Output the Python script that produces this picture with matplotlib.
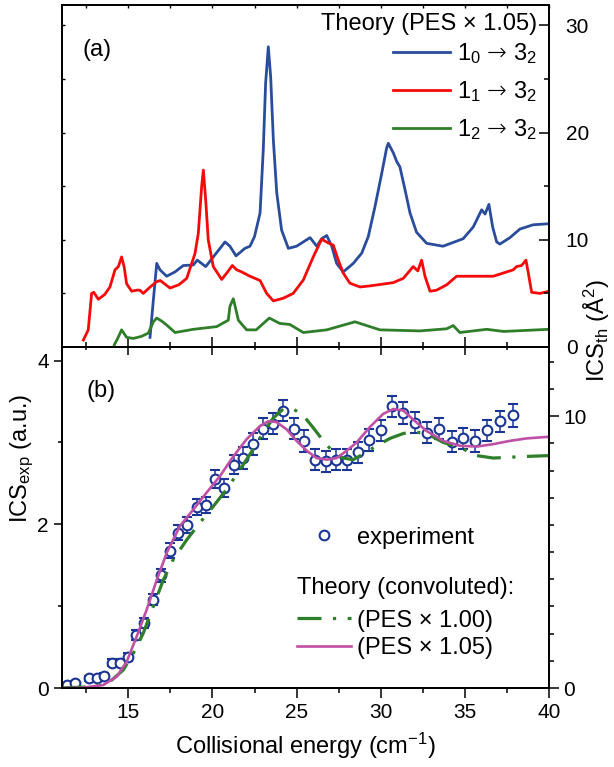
import numpy as np
import matplotlib
matplotlib.use('Agg')
import matplotlib.pyplot as plt
from matplotlib.lines import Line2D
from matplotlib.ticker import MultipleLocator, NullFormatter

plt.rcParams['font.family'] = ['Liberation Sans', 'DejaVu Sans']
plt.rcParams['mathtext.fontset'] = 'custom'
plt.rcParams['mathtext.rm'] = 'Liberation Sans'
plt.rcParams['mathtext.it'] = 'Liberation Sans:italic'
plt.rcParams['mathtext.bf'] = 'Liberation Sans:bold'
plt.rcParams['mathtext.sf'] = 'DejaVu Sans:light'

# ---------------- data: panel (a), theory ICS (A^2), PES x 1.05 ----------------
e_10 = [16.29, 16.49, 16.69, 16.88, 17.28, 17.77, 18.27, 18.86, 19.1, 19.6, 20.05, 20.75,
        21.04, 21.4, 21.93, 22.23, 22.5, 22.83, 23.02, 23.16, 23.32, 23.46, 23.62, 23.82,
        24.11, 24.51, 25.0, 25.8, 26.2, 26.49, 26.79, 27.09, 27.38, 27.77, 28.37, 28.87,
        29.26, 29.66, 30.06, 30.35, 30.45, 30.75, 30.95, 31.14, 31.44, 31.74, 32.13, 32.73,
        33.7, 34.9, 35.5, 36.0, 36.2, 36.43, 36.65, 36.89, 37.08, 37.68, 38.27, 39.06, 40.0]
ics_10 = [0.9, 4.4, 7.8, 7.2, 6.6, 7.0, 7.6, 7.65, 8.1, 7.5, 8.4, 9.8,
          9.4, 8.5, 9.2, 9.4, 10.3, 12.5, 18.4, 24.6, 28.0, 25.2, 19.3, 14.4,
          10.9, 9.2, 9.4, 10.2, 9.4, 10.1, 10.4, 9.4, 7.8, 7.0, 7.8, 8.75,
          10.3, 13.1, 16.2, 18.55, 19.0, 18.1, 17.3, 16.8, 14.7, 12.5, 10.7, 9.67,
          9.4, 10.1, 11.2, 12.8, 12.4, 13.3, 11.2, 9.8, 9.6, 10.2, 11.0, 11.4, 11.5]

e_11 = [12.33, 12.62, 12.82, 12.95, 13.22, 13.6, 13.91, 14.21, 14.41, 14.6, 14.75, 14.9,
        15.2, 15.5, 15.69, 15.89, 16.3, 16.69, 16.9, 17.48, 18.0, 18.47, 18.96, 19.16,
        19.36, 19.46, 19.6, 19.75, 20.05, 20.55, 20.85, 21.18, 21.44, 21.74, 22.23, 22.83,
        23.22, 23.62, 24.21, 24.8, 25.4, 25.99, 26.49, 26.89, 27.18, 27.48, 27.77, 28.17,
        28.77, 29.36, 30.73, 31.34, 31.93, 32.2, 32.43, 32.63, 32.93, 33.32, 33.92, 34.51,
        36.69, 37.28, 37.88, 38.07, 38.37, 38.63, 38.77, 38.97, 39.46, 40.0]
ics_11 = [0.65, 1.6, 5.0, 5.1, 4.45, 4.9, 5.6, 7.2, 7.5, 8.4, 7.5, 5.9,
          5.2, 5.3, 5.3, 5.0, 5.6, 6.1, 6.2, 5.5, 5.8, 6.4, 8.7, 10.6,
          15.0, 16.5, 13.7, 10.0, 7.5, 6.3, 6.9, 7.6, 7.2, 7.0, 6.6, 6.2,
          5.0, 4.3, 4.55, 5.0, 6.25, 8.4, 10.05, 9.7, 9.5, 8.1, 6.9, 5.95,
          5.6, 5.7, 6.0, 6.4, 7.5, 7.1, 8.1, 6.6, 5.2, 5.3, 5.8, 6.6,
          6.6, 6.9, 7.2, 7.5, 7.6, 8.1, 6.9, 5.1, 5.0, 5.2]

e_12 = [14.17, 14.4, 14.6, 14.9, 15.3, 15.8, 16.19, 16.49, 16.69, 17.0, 17.28, 17.78, 18.86,
        20.25, 20.94, 21.04, 21.24, 21.4, 21.54, 22.03, 22.6, 23.38, 24.0, 24.6, 25.4, 26.79,
        28.47, 29.95, 32.33, 33.92, 34.31, 34.7, 36.3, 37.3, 40.0]
ics_12 = [0.2, 0.9, 1.6, 0.9, 0.8, 1.0, 1.3, 2.35, 2.7, 2.4, 2.05, 1.35, 1.65,
          1.9, 2.5, 3.8, 4.5, 3.45, 2.5, 1.6, 1.6, 2.7, 2.2, 2.1, 1.35, 1.6,
          2.35, 1.6, 1.5, 1.7, 2.0, 1.35, 1.65, 1.45, 1.65]

# ---------------- data: panel (b) ----------------
e_exp = [11.34, 11.83, 12.68, 13.12, 13.57, 14.05, 14.51, 15.0, 15.46, 15.95, 16.49, 16.94,
         17.46, 17.97, 18.51, 19.06, 19.6, 20.15, 20.69, 21.26, 21.83, 22.39, 22.98, 23.62,
         24.21, 24.86, 25.46, 26.09, 26.73, 27.34, 27.97, 28.66, 29.32, 29.99, 30.65, 31.34,
         32.05, 32.73, 33.46, 34.21, 34.91, 35.6, 36.33, 37.08, 37.84]
ics_exp = [0.04, 0.065, 0.12, 0.12, 0.15, 0.31, 0.31, 0.38, 0.65, 0.79, 1.08, 1.38,
           1.68, 1.90, 1.99, 2.21, 2.24, 2.56, 2.44, 2.73, 2.81, 2.98, 3.17, 3.23,
           3.39, 3.17, 3.02, 2.79, 2.77, 2.79, 2.79, 2.88, 3.03, 3.15, 3.44, 3.36,
           3.24, 3.12, 3.17, 3.01, 3.05, 3.02, 3.15, 3.26, 3.33]
err_exp = [0.02, 0.02, 0.03, 0.03, 0.03, 0.04, 0.04, 0.05, 0.06, 0.06, 0.07, 0.08,
           0.09, 0.09, 0.10, 0.10, 0.10, 0.11, 0.11, 0.12, 0.13, 0.13, 0.13, 0.13,
           0.13, 0.13, 0.13, 0.13, 0.13, 0.13, 0.13, 0.13, 0.13, 0.13, 0.13, 0.13,
           0.13, 0.13, 0.13, 0.13, 0.13, 0.13, 0.13, 0.13, 0.14]

e_conv100 = [11.04, 12.92, 13.91, 14.7, 15.3, 15.89, 16.49, 17.08, 17.67, 18.47, 19.26, 20.05,
             20.85, 21.64, 22.43, 23.02, 23.62, 24.21, 24.8, 25.4, 25.99, 26.59, 27.18, 27.77,
             28.37, 28.96, 29.76, 30.55, 31.34, 31.93, 32.73, 33.72, 34.71, 35.7, 36.69, 37.68,
             38.67, 40.0]
ics_conv100 = [0.0, 0.016, 0.078, 0.22, 0.425, 0.67, 1.0, 1.32, 1.57, 1.81, 2.02, 2.22,
               2.43, 2.67, 2.92, 3.12, 3.30, 3.41, 3.41, 3.33, 3.18, 3.02, 2.88, 2.81,
               2.79, 2.86, 2.96, 3.05, 3.11, 3.13, 3.11, 3.0, 2.94, 2.84, 2.81, 2.82,
               2.83, 2.84]

e_conv105 = [11.04, 12.13, 13.52, 14.31, 14.9, 15.5, 16.09, 16.69, 17.28, 18.07, 18.86, 19.66,
             20.45, 21.24, 22.03, 22.82, 23.32, 23.81, 24.41, 25.0, 25.6, 26.19, 26.79, 27.38,
             27.98, 28.57, 29.36, 30.15, 30.75, 31.34, 31.93, 32.73, 33.72, 34.71, 35.7, 36.69,
             37.68, 38.67, 40.0]
ics_conv105 = [0.0, 0.0, 0.037, 0.139, 0.32, 0.63, 0.956, 1.32, 1.65, 1.98, 2.18, 2.39,
               2.59, 2.83, 3.04, 3.20, 3.26, 3.25, 3.16, 3.02, 2.90, 2.81, 2.79, 2.81,
               2.90, 3.0, 3.19, 3.35, 3.41, 3.39, 3.28, 3.14, 3.02, 2.96, 2.95, 2.98,
               3.02, 3.05, 3.07]

labels_a = ['$1_0\\ \\mathsf{→}\\ 3_2$', '$1_1\\ \\mathsf{→}\\ 3_2$', '$1_2\\ \\mathsf{→}\\ 3_2$']
title_a = 'Theory (PES × 1.05)'
title_b = 'Theory (convoluted):'
labels_b = ['(PES × 1.00)', '(PES × 1.05)']

# ---------------- styles ----------------
c_blue = '#2A4C9C'
c_red = '#F50A0A'
c_green = '#2F7F2A'
c_mag = '#C050A6'
c_exp = '#1A3596'
dashdot = (0, (7.5, 3.6, 1.0, 3.6))
FS = 17
TFS = 15

fig = plt.figure(figsize=(6.14, 7.67), dpi=100)
L, R = 62 / 614, 549 / 614
ax_a = fig.add_axes([L, 1 - 347 / 767, R - L, (347 - 5) / 767])
ax_b = fig.add_axes([L, 1 - 688 / 767, R - L, (688 - 347) / 767])

xlo, xhi = 11.06, 40.0

# ---------- panel (a) ----------
ax_a.plot(e_10, ics_10, color=c_blue, lw=2.0)
ax_a.plot(e_11, ics_11, color=c_red, lw=2.0)
ax_a.plot(e_12, ics_12, color=c_green, lw=2.0)
ax_a.set_xlim(xlo, xhi)
ax_a.set_ylim(0, 31.9)
ax_a.xaxis.set_major_locator(MultipleLocator(5))
ax_a.xaxis.set_minor_locator(MultipleLocator(2.5))
ax_a.yaxis.set_major_locator(MultipleLocator(10))
ax_a.yaxis.set_minor_locator(MultipleLocator(5))
ax_a.tick_params(axis='x', which='major', direction='in', length=7, width=1.1, labelbottom=False)
ax_a.tick_params(axis='x', which='minor', direction='in', length=3.5, width=1.1)
ax_a.tick_params(axis='y', which='both', direction='in', length=2, width=1.0, labelleft=False)
secx_a = ax_a.secondary_xaxis('top')
secx_a.xaxis.set_major_locator(MultipleLocator(2.5))
secx_a.tick_params(direction='in', length=2, width=1.0, labeltop=False)
ax_ar = ax_a.twinx()
ax_ar.set_ylim(0, 31.9)
ax_ar.yaxis.set_major_locator(MultipleLocator(10))
ax_ar.yaxis.set_minor_locator(MultipleLocator(5))
ax_ar.tick_params(axis='y', which='major', direction='in', length=7, width=1.1, labelsize=TFS, pad=12)
ax_ar.tick_params(axis='y', which='minor', direction='in', length=3.6, width=1.1)
ax_a.text(0.043, 0.868, '(a)', transform=ax_a.transAxes, fontsize=FS, va='center', ha='left')

ax_a.text(0.975, 0.944, title_a, transform=ax_a.transAxes, fontsize=FS, ha='right', va='center')
hs = [Line2D([], [], color=c, lw=2.0) for c in (c_blue, c_red, c_green)]
leg_a = ax_a.legend(hs, labels_a, fontsize=FS, loc='center right', bbox_to_anchor=(0.975, 0.746),
                    frameon=False, handlelength=2.4, handletextpad=0.3, borderpad=0,
                    borderaxespad=0, labelspacing=0.55)

# ---------- panel (b) ----------
ax_b.errorbar(e_exp, ics_exp, yerr=err_exp, fmt='o', mfc='white', mec=c_exp, ecolor=c_exp,
              ms=7, mew=1.5, elinewidth=1.1, capsize=3.5, capthick=1.1, zorder=2)
ax_b.plot(e_conv100, ics_conv100, color=c_green, lw=2.3, ls=dashdot, zorder=3)
ax_b.plot(e_conv105, ics_conv105, color=c_mag, lw=1.9, zorder=3)
ax_b.set_xlim(xlo, xhi)
ax_b.set_ylim(0, 4.167)
ax_b.xaxis.set_major_locator(MultipleLocator(5))
ax_b.xaxis.set_minor_locator(MultipleLocator(2.5))
ax_b.yaxis.set_major_locator(MultipleLocator(2))
ax_b.yaxis.set_minor_locator(MultipleLocator(1))
ax_b.tick_params(axis='x', which='major', direction='out', length=7, width=1.1, labelsize=TFS, pad=4)
ax_b.tick_params(axis='x', which='minor', direction='out', length=3.5, width=1.1)
ax_b.tick_params(axis='y', which='major', direction='out', length=6, width=1.1, labelsize=TFS)
ax_b.tick_params(axis='y', which='minor', direction='out', length=3, width=1.1)
secx_b = ax_b.secondary_xaxis('top')
secx_b.xaxis.set_major_locator(MultipleLocator(5))
secx_b.xaxis.set_minor_locator(MultipleLocator(2.5))
secx_b.tick_params(which='major', direction='in', length=6, width=1.1, labeltop=False)
secx_b.tick_params(which='minor', direction='in', length=2.5, width=1.1)
secx_b.xaxis.set_minor_formatter(NullFormatter())
ax_br = ax_b.twinx()
ax_br.set_ylim(0, 12.55)
ax_br.yaxis.set_major_locator(MultipleLocator(10))
ax_br.yaxis.set_minor_locator(MultipleLocator(1))
ax_br.tick_params(axis='y', which='major', direction='out', length=7, width=1.1, labelsize=TFS)
ax_br.tick_params(axis='y', which='minor', direction='out', length=3.6, width=1.1)
ax_b.text(0.051, 0.871, '(b)', transform=ax_b.transAxes, fontsize=FS, va='center', ha='left')
ax_b.set_xlabel('Collisional energy (cm$^{-1}$)', fontsize=FS, labelpad=6)

h_exp = Line2D([], [], ls='none', marker='o', mfc='white', mec=c_exp, ms=7, mew=1.5)
leg1 = ax_b.legend([h_exp], ['experiment'], loc='center left', bbox_to_anchor=(0.4825, 0.441),
                   frameon=False, fontsize=FS, handlelength=2.3, handletextpad=0.25,
                   borderpad=0, borderaxespad=0)
ax_b.add_artist(leg1)
ax_b.text(0.4825, 0.294, title_b, transform=ax_b.transAxes, fontsize=FS, ha='left', va='center')
h100 = Line2D([], [], color=c_green, lw=2.3, ls=dashdot)
h105 = Line2D([], [], color=c_mag, lw=1.9)
leg2 = ax_b.legend([h100, h105], labels_b, fontsize=FS, loc='center left',
                   bbox_to_anchor=(0.4825, 0.157), frameon=False, handlelength=2.3,
                   handletextpad=0.25, borderpad=0, borderaxespad=0, labelspacing=0.25)

for ax in (ax_a, ax_ar, ax_b, ax_br):
    for s in ax.spines.values():
        s.set_linewidth(1.3)
for s in (secx_a, secx_b):
    s.spines['top'].set_linewidth(1.3)

fig.text(22 / 614, 1 - 458 / 767, 'ICS$_{\\mathrm{exp}}$ (a.u.)', rotation=90, fontsize=FS,
         ha='center', va='center')
fig.text(597 / 614, 1 - 331 / 767, 'ICS$_{\\mathrm{th}}$ (Å$^2$)', rotation=90, fontsize=FS,
         ha='center', va='center')

fig.savefig('out.png', dpi=100)
